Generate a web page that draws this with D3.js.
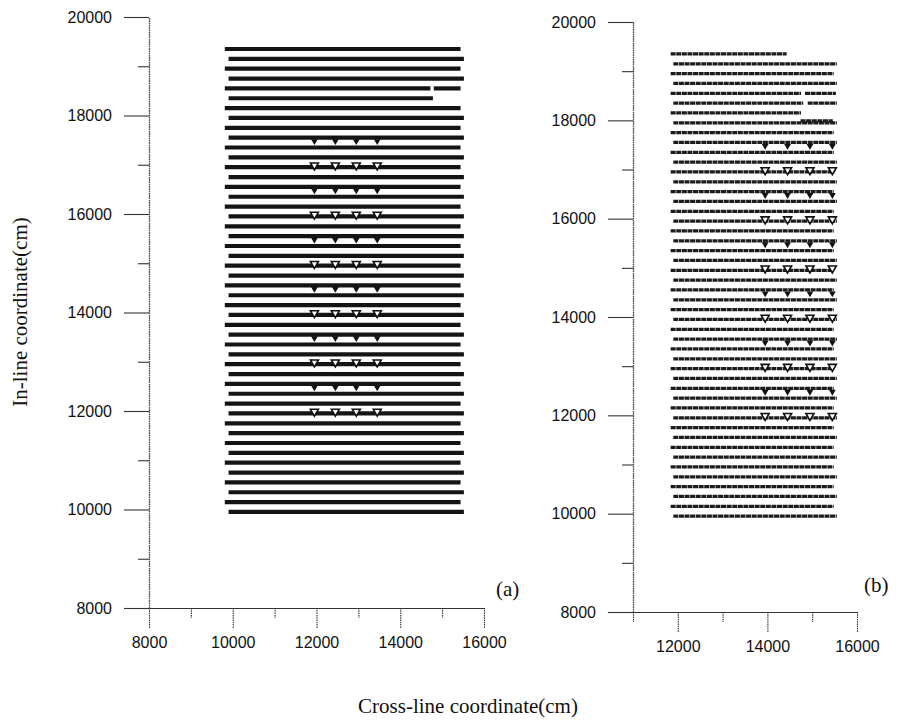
<!DOCTYPE html>
<html><head><meta charset="utf-8">
<script src="https://cdn.jsdelivr.net/npm/d3@7"></script>
<style>body{margin:0;background:#fff}svg{display:block}</style>
</head><body><svg id="c" width="897" height="724"></svg>
<script>
// In-line coordinate (cm) of every survey line, bottom to top
const inlineCoord = [9950,10150,10350,10550,10750,10950,11150,11350,11550,11750,11950,12150,
  12350,12550,12750,12950,13150,13350,13550,13750,13950,14150,14350,14550,
  14750,14950,15150,15350,15550,15750,15950,16150,16350,16550,16750,16950,
  17150,17350,17550,17750,17950,18150,18350,18550,18750,18950,19150,19350];
// Panel (a): cross-line start / end of each line
const startA = [9900,9810,9900,9810,9900,9810,9900,9810,9900,9810,9900,9810,
  9900,9810,9900,9810,9900,9810,9900,9810,9900,9810,9900,9810,
  9900,9810,9900,9810,9900,9810,9900,9810,9900,9810,9900,9810,
  9900,9810,9900,9810,9900,9810,9900,9810,9900,9810,9900,9810];
const endA = [15520,15440,15520,15440,15520,15440,15520,15440,15520,15440,15520,15440,
  15520,15440,15520,15440,15520,15440,15520,15440,15520,15440,15520,15440,
  15520,15440,15520,15440,15520,15440,15520,15440,15520,15440,15520,15440,
  15520,15440,15520,15440,15520,15440,14780,15440,15520,15440,15520,15440];
const gapsA = [{line:18550, from:14720, to:14800}];
const extraA = [];
// Panel (b)
const startB = [11900,11840,11900,11840,11900,11840,11900,11840,11900,11840,11900,11840,
  11900,11840,11900,11840,11900,11840,11900,11840,11900,11840,11900,11840,
  11900,11840,11900,11840,11900,11840,11900,11840,11900,11840,11900,11840,
  11900,11840,11900,11840,11900,11840,11900,11840,11900,11840,11900,11840];
const endB = [15550,15480,15550,15480,15550,15480,15550,15480,15550,15480,15550,15480,
  15550,15480,15550,15480,15550,15480,15550,15480,15550,15480,15550,15480,
  15550,15480,15550,15480,15550,15480,15550,15480,15550,15480,15550,15480,
  15550,15480,15550,15480,15550,14750,15550,15530,15550,15480,15550,14430];
const gapsB = [{line:18550, from:14750, to:14840},{line:18350, from:14800, to:14900}];
const extraB = [{line:17990, from:14740, to:15460}];
// Receiver markers
const markerXA = [11950,12450,12950,13450];
const markerXB = [13950,14450,14950,15450];
const rowsFilled = [12500,13500,14500,15500,16500,17500];
const rowsOpen = [12000,13000,14000,15000,16000,17000];
// Ticks
const yTicks = [8000,10000,12000,14000,16000,18000,20000];
const yMinor = [9000,11000,13000,15000,17000,19000];
const xTicksA = [8000,10000,12000,14000,16000];
const xMinorA = [9000,11000,13000,15000];
const xTicksB = [12000,14000,16000];
const xMinorB = [11000,13000,15000];

const svg = d3.select("#c");

function segments(lines, starts, ends, gaps, extra){
  const segs = [];
  lines.forEach((y,i)=>{
    let parts = [[starts[i], ends[i]]];
    gaps.filter(g=>g.line===y).forEach(g=>{
      const np=[]; parts.forEach(p=>{
        if (g.to<=p[0]||g.from>=p[1]) np.push(p);
        else { if (g.from>p[0]) np.push([p[0],g.from]); if (g.to<p[1]) np.push([g.to,p[1]]); }
      }); parts=np;
    });
    parts.forEach(p=>segs.push({y, x0:p[0], x1:p[1]}));
  });
  extra.forEach(e=>segs.push({y:e.line, x0:e.from, x1:e.to}));
  return segs;
}

function panel(cfg){
  const x = d3.scaleLinear().domain(cfg.xdom).range(cfg.xr);
  const y = d3.scaleLinear().domain([8000,20000]).range(cfg.yr);
  const g = svg.append("g");
  // lines
  g.append("g").selectAll("line")
    .data(segments(inlineCoord, cfg.starts, cfg.ends, cfg.gaps, cfg.extra))
    .join("line")
    .attr("x1", d=>x(d.x0)).attr("x2", d=>x(d.x1))
    .attr("y1", d=>y(d.y)).attr("y2", d=>y(d.y))
    .attr("stroke", cfg.lineColor).attr("stroke-width", cfg.lineW)
    .attr("stroke-dasharray", cfg.dash);
  // markers
  const tri = d3.symbol().type(d3.symbolTriangle);
  const filled = [], open = [];
  rowsFilled.forEach(r=>cfg.mx.forEach(m=>filled.push({x:m,y:r})));
  rowsOpen.forEach(r=>cfg.mx.forEach(m=>open.push({x:m,y:r})));
  g.append("g").selectAll("path").data(filled).join("path")
    .attr("d", tri.size(20)())
    .attr("transform", d=>`translate(${x(d.x)},${y(d.y)+1}) rotate(180)`)
    .attr("fill","#111");
  g.append("g").selectAll("path").data(open).join("path")
    .attr("d", tri.size(28)())
    .attr("transform", d=>`translate(${x(d.x)},${y(d.y)+0.5}) rotate(180)`)
    .attr("fill","#fff").attr("stroke","#111").attr("stroke-width",1.6);
  // axes
  const fmt = d3.format("d");
  const ya = g.append("g").attr("transform",`translate(${cfg.xr[0]},0)`);
  ya.call(d3.axisLeft(y).tickValues(yTicks).tickSize(25).tickSizeOuter(0).tickPadding(12).tickFormat(fmt));
  ya.append("g").call(d3.axisLeft(y).tickValues(yMinor).tickSize(11).tickSizeOuter(0).tickFormat(""));
  const xa = g.append("g").attr("transform",`translate(0,${cfg.yr[0]})`);
  xa.call(d3.axisBottom(x).tickValues(cfg.xt).tickSize(20).tickSizeOuter(0).tickPadding(9).tickFormat(fmt));
  xa.append("g").call(d3.axisBottom(x).tickValues(cfg.xm).tickSize(10).tickSizeOuter(0).tickFormat(""));
  g.selectAll(".domain").attr("stroke","#333").attr("stroke-width",1.2);
  ya.selectAll(".domain").attr("stroke-dasharray","1.5 0.8").attr("stroke","#555");
  g.selectAll(".tick line").attr("stroke","#333").attr("stroke-width",1.1);
  xa.selectAll(".tick line").attr("stroke-dasharray","1.5 0.8");
  g.selectAll(".tick text").attr("font-family","'Liberation Sans', Arial, sans-serif")
    .attr("font-size",16).attr("fill","#111");
  g.append("text").attr("x", cfg.labX).attr("y", cfg.labY)
    .attr("font-family","'Liberation Serif', 'Times New Roman', serif").attr("font-size",21)
    .attr("fill","#111").text(cfg.label);
}

panel({xdom:[8000,16000], xr:[149,484], yr:[608,17], starts:startA, ends:endA, gaps:gapsA, extra:extraA,
  mx:markerXA, xt:xTicksA, xm:xMinorA, lineColor:"#141414", lineW:4.2, dash:null, label:"(a)", labX:496, labY:596});
panel({xdom:[11000,16000], xr:[633,857], yr:[612,22], starts:startB, ends:endB, gaps:gapsB, extra:extraB,
  mx:markerXB, xt:xTicksB, xm:xMinorB, lineColor:"#1c1c1c", lineW:3.3, dash:"5 0.6", label:"(b)", labX:864, labY:592});

svg.append("text").attr("transform","translate(27,312) rotate(-90)")
  .attr("text-anchor","middle").attr("font-family","'Liberation Serif', 'Times New Roman', serif")
  .attr("font-size",21).attr("fill","#111").text("In-line coordinate(cm)");
svg.append("text").attr("x",468).attr("y",713)
  .attr("text-anchor","middle").attr("font-family","'Liberation Serif', 'Times New Roman', serif")
  .attr("font-size",21).attr("fill","#111").text("Cross-line coordinate(cm)");
</script></body></html>
